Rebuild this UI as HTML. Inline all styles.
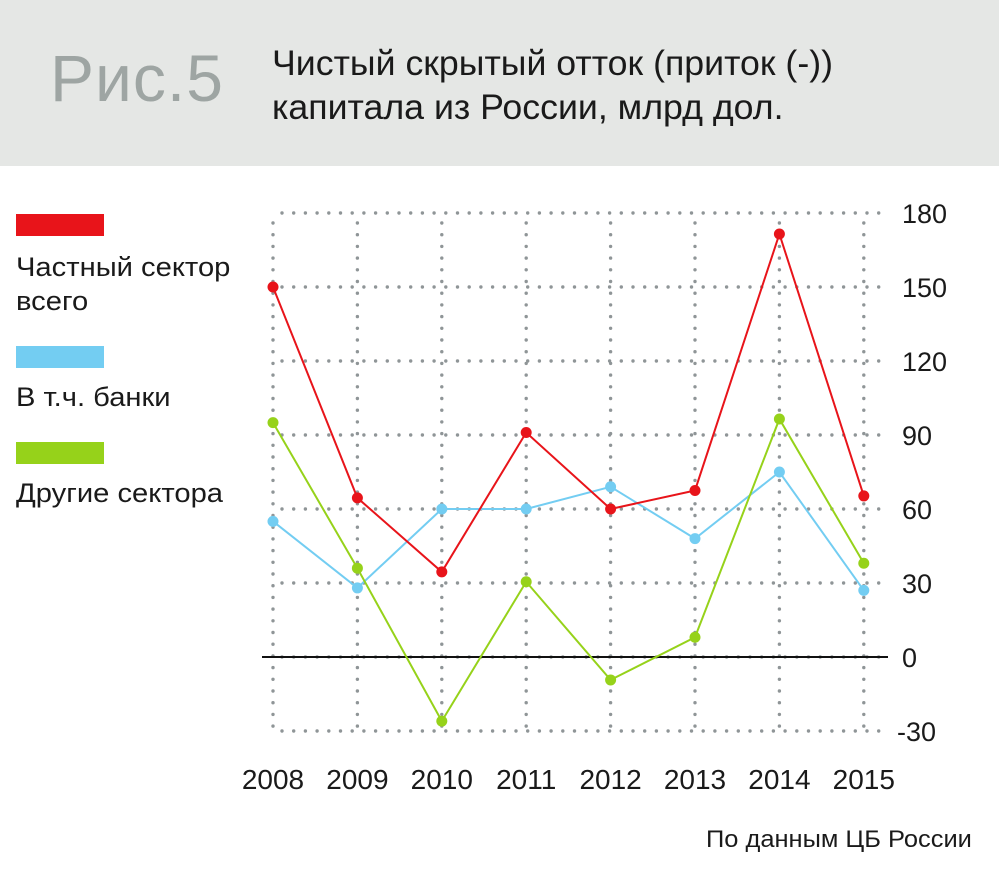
<!DOCTYPE html>
<html><head><meta charset="utf-8"><style>
body{margin:0;width:999px;height:888px;background:#fff;font-family:"Liberation Sans",sans-serif;overflow:hidden;position:relative}
.hdr{position:absolute;left:0;top:0;width:999px;height:166px;background:#e5e7e5}
.fig{position:absolute;left:50px;top:40px;font-size:66px;color:#9ea5a3;letter-spacing:1px}
.ttl{position:absolute;left:272px;top:42px;font-size:35px;line-height:44px;color:#1a1a1a;transform:scaleX(1.02);transform-origin:left;white-space:nowrap}
.leg{position:absolute;left:16px;font-size:27px;color:#1a1a1a;line-height:34px;transform:scaleX(1.08);transform-origin:left;white-space:nowrap}
.sw{position:absolute;left:16px;width:88px;height:22px}
.src{position:absolute;left:706px;top:826px;font-size:24px;color:#1a1a1a;transform:scaleX(1.06);transform-origin:left;white-space:nowrap}
svg{position:absolute;left:0;top:0}
</style></head><body>
<div class="hdr"></div>
<div class="fig">Рис.5</div>
<div class="ttl">Чистый скрытый отток (приток (-))<br>капитала из России, млрд дол.</div>
<div class="sw" style="top:214px;background:#e8141a"></div>
<div class="leg" style="top:250px">Частный сектор<br>всего</div>
<div class="sw" style="top:346px;background:#73cdf2"></div>
<div class="leg" style="top:380px">В т.ч. банки</div>
<div class="sw" style="top:442px;background:#96d21a"></div>
<div class="leg" style="top:476px">Другие сектора</div>
<div class="src">По данным ЦБ России</div>
<svg id="c" width="999" height="888"></svg>
<script>
const years=["2008","2009","2010","2011","2012","2013","2014","2015"];
const yTicks=[180,150,120,90,60,30,0,-30];
const privateSector=[150,64.5,34.5,91,60,67.5,171.5,65.3];
const banks=[55,28,60,60,69,48,75,27];
const otherSectors=[95,36,-26,30.5,-9.3,8,96.5,38];
const NS="http://www.w3.org/2000/svg";
const svg=document.getElementById('c');
const x=i=>273+i*84.4;
const y=v=>657-v*74/30;
function mk(t,a){const e=document.createElementNS(NS,t);for(const k in a)e.setAttribute(k,a[k]);svg.appendChild(e);return e;}
yTicks.forEach(v=>{
 const g=mk('line',{x1:282,x2:882,y1:y(v),y2:y(v),stroke:'#8f9597','stroke-width':3.4,'stroke-linecap':'round','stroke-dasharray':'0 11.7'});
 
 
 const t=mk('text',{x:v<0?897:902,y:y(v)+10,'font-size':27,fill:'#1a1a1a','font-family':'Liberation Sans, sans-serif'});
 t.textContent=v;
 
 
});
years.forEach((yr,i)=>{
 const g=mk('line',{x1:x(i),x2:x(i),y1:y(180)+10,y2:y(-30),stroke:'#8f9597','stroke-width':3.4,'stroke-linecap':'round','stroke-dasharray':'0 11.7'});
 
 
 const t=mk('text',{x:x(i),y:789,'font-size':28,fill:'#1a1a1a','text-anchor':'middle','font-family':'Liberation Sans, sans-serif'});
 t.textContent=yr;
 
 
});
const z=mk('line',{x1:262,x2:888,y1:y(0),y2:y(0),stroke:'#111','stroke-width':2});


function series(vals,col,name){
 const p=mk('polyline',{points:vals.map((v,i)=>x(i)+','+y(v)).join(' '),fill:'none',stroke:col,'stroke-width':2});
 
 
 vals.forEach((v,i)=>{
  const c=mk('circle',{cx:x(i),cy:y(v),r:5.5,fill:col});
  
  
 });
}
series(banks,'#73cdf2','banks');
series(otherSectors,'#96d21a','other-sectors');
series(privateSector,'#e8141a','private-sector');
</script>
</body></html>
